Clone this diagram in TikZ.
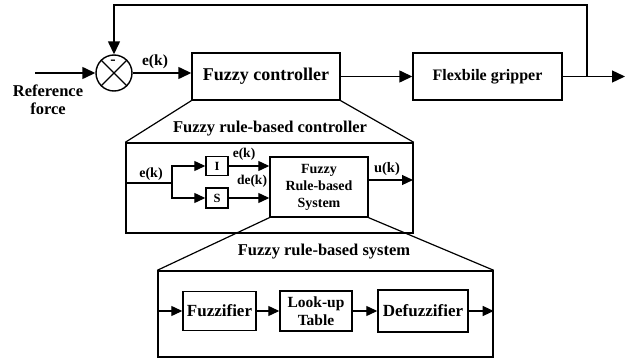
\documentclass[tikz,border=0pt]{standalone}
\usepackage{fontspec}
\setmainfont{Liberation Serif}
\usetikzlibrary{arrows.meta, positioning, calc}

\newcommand{\txtsize}[1]{\fontsize{#1}{#1}\selectfont\bfseries}

\tikzset{
    blockbox/.style={draw, line width=1.4pt, inner sep=1pt, align=center},
    framebox/.style={draw, line width=1.4pt, inner sep=0pt},
    sumnode/.style={draw, circle, line width=1.4pt, minimum size=36pt, inner sep=0pt},
    lbl/.style={inner sep=0pt, align=center},
    flow/.style={line width=1.4pt, -{Triangle[length=13pt, width=12pt]}},
    smallflow/.style={line width=1.2pt, -{Triangle[length=11pt, width=10pt]}},
    zoomline/.style={line width=1.2pt}
}

\begin{document}
\begin{tikzpicture}[x=1pt, y=-1pt]
    \useasboundingbox (0,0) rectangle (638,364);

    % main loop
    \node[sumnode] (sum) at (114,73) {};
    \draw[line width=1.4pt] (sum.north west) -- (sum.south east) (sum.north east) -- (sum.south west);
    \node[lbl, font=\txtsize{16}] (minus) at (113,62) {-};
    \coordinate (ref) at (35,73);
    \node[lbl, font=\txtsize{16.5}] (reflbl) at (48,100) {Reference\\[1pt]force};
    \node[blockbox, minimum width=148pt, minimum height=47pt, font=\txtsize{18}] (fc) at (266,76.5) {Fuzzy controller};
    \node[blockbox, minimum width=149pt, minimum height=47pt, font=\txtsize{16}] (fg) at (487.5,76.5) {Flexbile gripper};
    \node[lbl, font=\txtsize{15.5}] (ek) at (155,62) {e(k)};
    \coordinate (fb) at (587,76.5);
    \coordinate (fbtop) at (587,5);
    \coordinate (out) at (625,76.5);

    \draw[flow] (ref) -- (sum.west);
    \draw[flow] (sum.east) -- (sum.east -| fc.west);
    \draw[flow] (fc.east) -- (fg.west);
    \draw[flow] (fg.east) -- (out);
    \draw[flow] (fb) -- (fbtop) -| (sum.north);

    % fuzzy rule-based controller
    \node[framebox, minimum width=287pt, minimum height=90pt] (rbc) at (269.5,188) {};
    \node[lbl, font=\txtsize{16.5}] (rbctitle) at (270,129) {Fuzzy rule-based controller};
    \draw[zoomline] (fc.south west) -- (rbc.north west);
    \draw[zoomline] (fc.south east) -- (rbc.north east);

    \node[blockbox, minimum width=22pt, minimum height=19pt, font=\txtsize{12.5}] (int) at (217,166) {I};
    \node[blockbox, minimum width=22pt, minimum height=20pt, font=\txtsize{12.5}] (sd) at (217,198) {S};
    \node[blockbox, minimum width=98pt, minimum height=60pt, font=\txtsize{14}] (frbs) at (319,187) {Fuzzy\\[3pt]Rule-based\\[3pt]System};
    \coordinate (ein) at (126,183);
    \coordinate (br) at (172,183);
    \coordinate (uout) at (413,180);
    \node[lbl, font=\txtsize{14}] (ekin) at (151,174) {e(k)};
    \node[lbl, font=\txtsize{13.5}] (ekint) at (244,154) {e(k)};
    \node[lbl, font=\txtsize{13.5}] (dek) at (252,181) {de(k)};
    \node[lbl, font=\txtsize{14.5}] (uk) at (387,169) {u(k)};

    \draw[line width=1.2pt] (ein) -- (br);
    \draw[smallflow] (br) |- (int.west);
    \draw[smallflow] (br) |- (sd.west);
    \draw[smallflow] (int.east) -- (int.east -| frbs.west);
    \draw[smallflow] (sd.east) -- (sd.east -| frbs.west);
    \draw[smallflow] (frbs.east |- uout) -- (uout);

    % fuzzy rule-based system
    \node[framebox, minimum width=335pt, minimum height=86pt] (frs) at (325.5,314) {};
    \node[lbl, font=\txtsize{16.5}] (frstitle) at (324,252) {Fuzzy rule-based system};
    \draw[zoomline] (frbs.south west) -- (frs.north west);
    \draw[zoomline] (frbs.south east) -- (frs.north east);

    \node[blockbox, minimum width=73pt, minimum height=39pt, font=\txtsize{17}] (fz) at (219.5,311) {Fuzzifier};
    \node[blockbox, minimum width=72pt, minimum height=40pt, font=\txtsize{15.5}] (lut) at (316,311) {Look-up\\[2pt]Table};
    \node[blockbox, minimum width=90pt, minimum height=42pt, font=\txtsize{17}] (dfz) at (423,311) {Defuzzifier};
    \coordinate (sin) at (158,311);

    \draw[smallflow] (sin) -- (fz.west);
    \draw[smallflow] (fz.east) -- (lut.west);
    \draw[smallflow] (lut.east) -- (dfz.west);
    \draw[smallflow] (dfz.east) -- (dfz.east -| frs.east);
\end{tikzpicture}
\end{document}
